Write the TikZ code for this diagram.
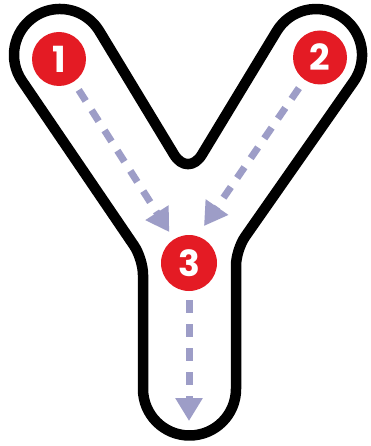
\documentclass[tikz,border=0pt]{standalone}
\usepackage{fontspec}
\newfontfamily\numfont{Poppins}
\usetikzlibrary{calc,arrows.meta}
\definecolor{ybadge}{RGB}{228,27,36}
\definecolor{yarrow}{RGB}{157,157,199}
\begin{document}
\begin{tikzpicture}[x=1pt,y=1pt,
  outline/.style={draw=black, fill=white, line width=10.5pt, line join=round},
  badge/.style={circle, fill=ybadge, text=white, inner sep=0pt,
    font=\numfont\bfseries\fontsize{36}{36}\selectfont},
  flow/.style={draw=yarrow, line width=7pt, dash pattern=on 13pt off 11pt,
    -{Triangle[length=23pt,width=26pt]}}
]
\useasboundingbox (0,0) rectangle (371,-446);
% outline key points
\coordinate (bl) at (143,-389);
\coordinate (CL) at (143,-258.8);
\coordinate (TL1) at (22,-80.9);
\coordinate (TU1) at (99.3,-31.2);
\coordinate (N) at (188,-177.6);
\coordinate (TU2) at (276.7,-31.2);
\coordinate (TL2) at (353.7,-81.4);
\coordinate (CR) at (236,-249.7);
\coordinate (br) at (236,-389);
\draw[outline] (bl) -- ($(CL)!16pt!(bl)$)
  .. controls ($(CL)!7pt!(bl)$) and ($(CL)!7pt!(TL1)$) .. ($(CL)!16pt!(TL1)$)
  -- (TL1) arc[start angle=214.3, end angle=31.2, radius=46pt]
  -- ($(N)!27pt!(TU1)$)
  .. controls ($(N)!12pt!(TU1)$) and ($(N)!12pt!(TU2)$) .. ($(N)!27pt!(TU2)$)
  -- (TU2) arc[start angle=148.8, end angle=-35, radius=46pt]
  -- ($(CR)!16pt!(TL2)$)
  .. controls ($(CR)!7pt!(TL2)$) and ($(CR)!7pt!(br)$) .. ($(CR)!16pt!(br)$)
  -- (br) arc[start angle=0, end angle=-180, radius=46.5pt] -- cycle;
% badges
\node[badge, minimum size=54pt] (n1) at (59,-59) {1};
\node[badge, minimum size=54pt] (n2) at (320,-57.5) {2};
\node[badge, minimum size=56pt] (n3) at (189,-263) {3};
% arrows
\coordinate (t2) at (204,-226);
\coordinate (t3) at (189,-421);
\draw[flow, shorten <=9.5pt, shorten >=8.5pt] (n1) -- (n3);
\draw[flow, shorten <=10pt] (n2) -- (t2);
\draw[flow, shorten <=9pt] (n3) -- (t3);
\end{tikzpicture}
\end{document}
